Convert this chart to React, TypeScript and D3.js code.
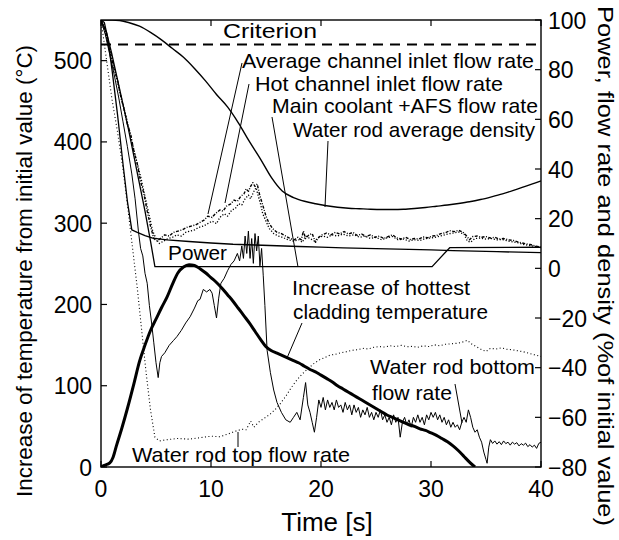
import React from "react";
import * as d3 from "d3";

// ---------- data ----------
const timeTicks = [0, 10, 20, 30, 40];
const tempTicks = [0, 100, 200, 300, 400, 500];
const pctTicks = [-80, -60, -40, -20, 0, 20, 40, 60, 80, 100];
const criterionTemp = 520;

type P = [number, number];

// Increase of hottest cladding temperature (°C, left axis)
const claddingTemp: P[] = [
  [0, 0], [0.3, 2], [0.8, 5], [1.1, 12], [1.4, 26], [1.9, 48], [2.4, 72], [3.0, 103], [3.5, 130],
  [4.0, 150], [4.5, 168], [5.0, 182], [5.5, 196], [6.0, 209], [6.5, 225], [7.0, 239], [7.5, 246],
  [8.0, 249], [8.5, 248], [9.0, 244], [9.5, 239], [10.0, 233], [10.5, 227], [11.0, 220], [11.5, 212],
  [12.0, 204], [12.5, 195], [13.0, 186], [13.5, 177], [14.0, 167], [14.5, 157], [15.0, 148],
  [15.5, 143], [16.0, 140], [16.5, 137], [17.0, 134], [17.5, 131], [18.0, 128], [18.5, 124],
  [19.0, 120], [19.5, 117], [20.0, 113], [20.5, 109], [21.0, 105], [21.5, 100], [22.0, 96],
  [22.5, 92], [23.0, 88], [23.5, 84], [24.0, 80], [24.5, 76], [25.0, 72], [25.5, 68], [26.0, 64],
  [26.5, 61], [27.0, 58], [27.5, 55], [28.0, 52], [28.5, 50], [29.0, 47], [29.5, 45], [30.0, 42],
  [30.5, 39], [31.0, 35], [31.5, 31], [32.0, 26], [32.5, 20], [33.0, 13], [33.5, 6], [34.0, 0],
];

// Water rod average density (% of initial, right axis)
const waterRodDensity: P[] = [
  [0, 100], [1, 100], [1.7, 99.8], [2.5, 99], [3.5, 97.5], [4.5, 95], [5.5, 92], [6.5, 88.5],
  [7.5, 85], [8.5, 80.5], [9.5, 75.5], [10.5, 70], [11.5, 65], [12.5, 58.5], [13.5, 51], [14.5, 44],
  [15.5, 36.5], [16.5, 31], [17.5, 28.5], [18.5, 27], [19.5, 26], [20.5, 25.2], [21.5, 24.6],
  [22.5, 24.2], [23.5, 24], [24.5, 23.8], [25.5, 23.7], [26.5, 23.7], [27.5, 23.8], [28.5, 24.1],
  [29.5, 24.5], [30.5, 25], [31.5, 25.5], [32.5, 26.1], [33.5, 26.8], [34.5, 27.7], [35.5, 28.8],
  [36.5, 30], [37.5, 31.4], [38.5, 32.9], [39.5, 34.4], [40, 35.2],
];

// Power
const power: P[] = [
  [0, 100], [0.3, 99], [0.6, 93], [1.0, 80], [1.5, 62], [2.0, 42], [2.4, 27], [2.8, 15.5],
  [3.3, 14.5], [4.0, 13.2], [4.7, 12.2], [6, 11.5], [8, 10.8], [10, 10.2], [12, 9.7], [14, 9.4],
  [16, 9.1], [18, 8.8], [20, 8.5], [22, 8.2], [24, 8.0], [26, 7.8], [28, 7.6], [30, 7.4], [32, 7.1],
  [34, 6.9], [36, 6.7], [38, 6.5], [40, 6.3],
];

// Main coolant + AFS flow rate
const mainCoolantFlow: P[] = [
  [0, 100], [0.5, 95], [1, 86], [1.5, 76], [2, 66], [2.5, 56], [3, 45], [3.5, 34], [4, 23],
  [4.5, 11], [4.9, 0.7], [30.1, 0.7], [31.7, 8.3], [40, 8.5],
];

// Average channel inlet flow rate
const avgChannelFlow: P[] = [
  [0, 100], [0.3, 97], [0.6, 91], [0.9, 86], [1.2, 80], [1.5, 76], [1.8, 69], [2.1, 64], [2.4, 58],
  [2.7, 54], [3.0, 47], [3.3, 42], [3.6, 35], [3.9, 30], [4.2, 23], [4.5, 17], [4.8, 12], [5.1, 11],
  [5.4, 12], [5.8, 13.5], [6.2, 13], [6.6, 14.5], [7.0, 15], [7.4, 15.5], [7.8, 16.5], [8.2, 17],
  [8.6, 17.5], [9.0, 18.5], [9.4, 19.5], [9.7, 21], [10.1, 20.5], [10.4, 22], [10.8, 23.5],
  [11.1, 23], [11.4, 25], [11.8, 26], [12.1, 27.5], [12.4, 27], [12.7, 29], [13.0, 30], [13.2, 32],
  [13.4, 31], [13.6, 33], [13.8, 34.5], [14.0, 33], [14.2, 34], [14.4, 30], [14.6, 27], [14.8, 24],
  [15.0, 21], [15.3, 18], [15.6, 16], [16.0, 14.5], [16.4, 14], [16.8, 13], [17.2, 12], [17.6, 11.5],
  [17.9, 12.5], [18.2, 11.5], [18.4, 15], [18.6, 12], [18.9, 13.5], [19.2, 14], [19.5, 10.5],
  [19.8, 12.5], [20.1, 13.5], [20.5, 14.2], [20.9, 13.5], [21.3, 14.5], [21.7, 13.8], [22.1, 14.8],
  [22.5, 13.8], [22.9, 14.5], [23.3, 13.2], [23.7, 13.8], [24.1, 12.8], [24.5, 13.5], [24.9, 12.5],
  [25.3, 13], [25.7, 12], [26.1, 12.8], [26.5, 13.5], [26.9, 12.2], [27.3, 11.8], [27.7, 12.5],
  [28.1, 11.6], [28.5, 12], [28.9, 11.8], [29.3, 12.6], [29.7, 12.3], [30.1, 13], [30.5, 13.2],
  [30.9, 14], [31.3, 14.3], [31.7, 15.2], [32.1, 14.8], [32.5, 15.3], [32.9, 14.6], [33.2, 13.2],
  [33.5, 11.5], [33.8, 12.8], [34.2, 13], [34.6, 12.5], [35.0, 12.8], [35.4, 12.2], [35.8, 12.5],
  [36.2, 11.8], [36.6, 12], [37.0, 11.5], [37.5, 11.2], [38.0, 10.5], [38.5, 10], [39.0, 9.6],
  [39.5, 9], [40, 8.5],
];

// Hot channel inlet flow rate
const hotChannelFlow: P[] = [
  [0, 100], [0.4, 95], [0.8, 88], [1.2, 81], [1.6, 73], [2.0, 66], [2.4, 59], [2.8, 51], [3.2, 44],
  [3.6, 37], [4.0, 29], [4.4, 21], [4.7, 15], [5.0, 12], [5.3, 10], [5.7, 11], [6.1, 12], [6.5, 12.5],
  [6.9, 13.5], [7.3, 13], [7.7, 14.5], [8.1, 15], [8.5, 15.5], [8.9, 16.5], [9.3, 17], [9.7, 18],
  [10.1, 19], [10.5, 18], [10.8, 20.5], [11.2, 22], [11.5, 21], [11.9, 23.5], [12.2, 24], [12.5, 26],
  [12.8, 25.5], [13.1, 28], [13.4, 29.5], [13.6, 28], [13.9, 31], [14.1, 32.5], [14.3, 29],
  [14.5, 26], [14.7, 22], [15.0, 19], [15.3, 16], [15.7, 14], [16.1, 13], [16.5, 12.5], [17, 11.5],
  [17.5, 11], [18, 11.5], [18.3, 10.5], [18.6, 13], [19, 12], [19.4, 11], [19.8, 12.5], [20.2, 13],
  [20.6, 12.5], [21, 13.5], [21.5, 13], [22, 13.8], [22.5, 13], [23, 13.5], [23.5, 12.5], [24, 13],
  [24.5, 12], [25, 12.5], [25.5, 11.5], [26, 12.3], [26.5, 12.8], [27, 11.5], [27.5, 11.8], [28, 11],
  [28.5, 11.5], [29, 11.2], [29.5, 12], [30, 12.2], [30.5, 12.6], [31, 13.2], [31.5, 13.8], [32, 14.2],
  [32.5, 14.6], [33, 13.8], [33.3, 11], [33.6, 10.5], [34, 12], [34.5, 12.2], [35, 11.8], [35.5, 12],
  [36, 11.5], [36.5, 11.6], [37, 11], [37.5, 10.6], [38, 10.2], [38.5, 9.5], [39, 9.2], [39.5, 8.8],
  [40, 8.2],
];

// Water rod top flow rate
const waterRodTopFlow: P[] = [
  [0, 100], [0.5, 84], [1, 68], [1.5, 55], [2, 40], [2.5, 22], [2.9, 7], [3.3, -8], [3.7, -25],
  [4.1, -42], [4.5, -57], [4.9, -68], [5.3, -69.5], [6, -69], [7, -68.5], [8, -68.8], [9, -68.2],
  [10, -67.6], [10.8, -67.8], [11.5, -66.8], [12.2, -65.6], [12.8, -64.8], [13.2, -65], [13.6, -61.5],
  [13.9, -64], [14.3, -62], [14.8, -60.5], [15.3, -59], [15.8, -57], [16.3, -54.5], [16.8, -51.5],
  [17.3, -48], [17.8, -45], [18.3, -42.5], [18.8, -40.5], [19.3, -38.5], [19.8, -37], [20.3, -36],
  [20.8, -35], [21.3, -34.6], [21.8, -34], [22.3, -33.6], [22.8, -33], [23.3, -32.8], [23.8, -32.2],
  [24.3, -32.5], [24.8, -31.8], [25.3, -31.5], [25.8, -31.7], [26.3, -31.2], [26.8, -31.5],
  [27.3, -31], [27.8, -31.6], [28.3, -31.4], [28.8, -31.8], [29.3, -31.2], [29.8, -31.5],
  [30.3, -30.8], [30.8, -31.2], [31.3, -30.6], [31.8, -30.4], [32.3, -30.2], [32.8, -29.8],
  [33.3, -29], [33.7, -30.5], [34.1, -31.5], [34.5, -32.5], [35.0, -33.5], [35.4, -32.2],
  [35.9, -32.5], [36.4, -32], [36.9, -32.6], [37.4, -32.8], [37.9, -33.2], [38.4, -33.6],
  [38.9, -34.2], [39.4, -34.8], [40, -35.5],
];

// Water rod bottom flow rate
const waterRodBottomFlow: P[] = [
  [0, 100], [0.4, 94], [0.8, 86], [1.2, 78], [1.6, 69], [2.0, 59], [2.4, 49], [2.8, 38], [3.1, 28],
  [3.4, 15], [3.6, 8], [3.8, 5], [4.0, -2], [4.2, -6], [4.4, -15], [4.6, -22], [4.8, -30], [5.0, -38],
  [5.2, -44], [5.35, -38], [5.5, -35.5], [5.8, -34], [6.2, -31], [6.6, -29], [6.9, -27.5], [7.3, -25],
  [7.7, -22], [8.1, -19.5], [8.5, -16], [8.8, -13], [9.0, -12.5], [9.3, -8.5], [9.6, -9.5],
  [9.9, -8.5], [10.1, -10], [10.3, -15], [10.5, -20], [10.7, -12], [10.9, -6], [11.2, -4], [11.5, -1],
  [11.8, 1.5], [12.1, 3], [12.4, 6], [12.6, 3], [12.8, 9], [12.95, 4], [13.1, 13], [13.25, 6],
  [13.4, 15], [13.55, 4], [13.7, 12], [13.85, 2], [14.0, 14], [14.15, 7], [14.3, 13], [14.45, 1],
  [14.6, 8], [14.75, -3], [14.9, -15], [15.1, -33], [15.4, -42], [15.7, -49], [16.0, -54],
  [16.4, -58], [16.8, -61], [17.2, -62], [17.5, -60], [17.8, -58], [18.1, -61], [18.4, -52],
  [18.6, -46], [18.8, -55], [19.0, -58], [19.2, -62], [19.4, -66], [19.6, -60], [19.8, -53],
  [20.0, -56], [20.2, -52], [20.4, -57], [20.6, -53], [20.8, -56], [21.0, -54], [21.2, -57],
  [21.4, -53], [21.6, -56], [21.8, -55], [22.0, -58], [22.2, -54], [22.4, -57], [22.6, -55],
  [22.8, -59], [23.0, -55], [23.2, -58], [23.4, -56], [23.6, -60], [23.8, -57], [24.0, -59],
  [24.2, -56], [24.4, -60], [24.6, -58], [24.8, -61], [25.0, -58], [25.2, -60], [25.4, -57],
  [25.6, -61], [25.8, -59], [26.0, -62], [26.2, -60], [26.4, -63], [26.6, -59], [26.8, -62],
  [27.0, -60], [27.2, -68], [27.4, -62], [27.6, -60], [27.8, -63], [28.0, -61], [28.2, -64],
  [28.4, -60], [28.6, -62], [28.8, -59], [29.0, -62], [29.2, -60], [29.4, -63], [29.6, -59],
  [29.8, -61], [30.0, -58], [30.2, -60], [30.4, -58], [30.6, -61], [30.8, -59], [31.0, -62],
  [31.2, -60], [31.4, -63], [31.6, -61], [31.8, -64], [32.0, -62], [32.2, -64], [32.4, -63],
  [32.6, -65], [32.8, -62], [33.0, -60], [33.2, -62], [33.4, -57], [33.6, -60], [33.8, -64],
  [34.0, -66], [34.2, -65], [34.4, -68], [34.6, -70], [34.8, -74], [35.0, -77], [35.1, -78.5],
  [35.25, -72], [35.4, -69], [35.6, -70.5], [35.8, -69.5], [36.0, -70.8], [36.2, -69.8], [36.4, -71],
  [36.6, -69.5], [36.8, -70.6], [37.0, -70], [37.2, -71.2], [37.4, -70], [37.6, -70.8], [37.8, -70.2],
  [38.0, -71.5], [38.2, -70.6], [38.4, -71.2], [38.6, -70.4], [38.8, -71.8], [39.0, -71], [39.2, -72],
  [39.4, -71.2], [39.6, -72.5], [39.8, -70.5], [40, -70],
];

// ---------- layout ----------
const W = 619;
const H = 540;
const L = 101, R = 541, T = 20, B = 467;
const FONT = "'Liberation Sans', Arial, Helvetica, sans-serif";

export default function App() {
  const x = d3.scaleLinear().domain([0, 40]).range([L, R]);
  const yL = d3.scaleLinear().domain([0, 550]).range([B, T]);
  const yR = d3.scaleLinear().domain([-80, 100]).range([B, T]);

  const lineR = d3.line<P>().x((d) => x(d[0])).y((d) => yR(d[1]));
  const lineRSmooth = d3.line<P>().x((d) => x(d[0])).y((d) => yR(d[1])).curve(d3.curveMonotoneX);
  const lineL = d3.line<P>().x((d) => x(d[0])).y((d) => yL(d[1])).curve(d3.curveMonotoneX);

  const tick = 6;
  const ann = (s: string, xx: number, yy: number, len: number, fs = 21) => (
    <text x={xx} y={yy} fontSize={fs} textLength={len} lengthAdjust="spacingAndGlyphs">{s}</text>
  );

  return (
    <svg
      width={W}
      height={H}
      style={{ position: "absolute", left: 0, top: 0, background: "#fff" }}
      fontFamily={FONT}
    >
      <defs>
        <clipPath id="plot">
          <rect x={L} y={T} width={R - L} height={B - T} />
        </clipPath>
      </defs>
      <rect x={0} y={0} width={W} height={H} fill="#fff" />

      <g clipPath="url(#plot)" fill="none" stroke="#000" strokeLinejoin="round">
        <line x1={L} x2={R} y1={yL(criterionTemp)} y2={yL(criterionTemp)} strokeWidth={2} strokeDasharray="10,7" />
        <path d={lineRSmooth(waterRodDensity) || ""} strokeWidth={1.4} />
        <path d={lineR(power) || ""} strokeWidth={1.3} />
        <path d={lineR(mainCoolantFlow) || ""} strokeWidth={1.3} />
        <path d={lineR(avgChannelFlow) || ""} strokeWidth={1.4} strokeDasharray="3,1.5,1,1.5" />
        <path d={lineR(hotChannelFlow) || ""} strokeWidth={1.3} strokeDasharray="1.2,1.8" />
        <path d={lineR(waterRodTopFlow) || ""} strokeWidth={1.1} strokeDasharray="1,2.5" />
        <path d={lineR(waterRodBottomFlow) || ""} strokeWidth={1} />
        <path d={lineL(claddingTemp) || ""} strokeWidth={3} />
      </g>

      {/* frame */}
      <rect x={L} y={T} width={R - L} height={B - T} fill="none" stroke="#000" strokeWidth={1.4} />

      {/* ticks */}
      <g stroke="#000" strokeWidth={1.2}>
        {tempTicks.map((v) => (
          <line key={"tl" + v} x1={L} x2={L + tick} y1={yL(v)} y2={yL(v)} />
        ))}
        {pctTicks.map((v) => (
          <line key={"tr" + v} x1={R} x2={R - tick} y1={yR(v)} y2={yR(v)} />
        ))}
        {timeTicks.map((v) => (
          <g key={"tx" + v}>
            <line x1={x(v)} x2={x(v)} y1={B} y2={B - tick} />
            <line x1={x(v)} x2={x(v)} y1={T} y2={T + tick} />
          </g>
        ))}
      </g>

      {/* tick labels */}
      <g fontSize={23} fill="#000">
        {tempTicks.map((v) => (
          <text key={"ll" + v} x={L - 9} y={yL(v) + 8.5} textAnchor="end">{v}</text>
        ))}
        {pctTicks.map((v) => (
          <text key={"rl" + v} x={R + 7} y={yR(v) + 8.5} textAnchor="start">{v < 0 ? "\u2212" + Math.abs(v) : String(v)}</text>
        ))}
        {timeTicks.map((v) => (
          <text key={"xl" + v} x={x(v)} y={B + 30} textAnchor="middle">{v}</text>
        ))}
      </g>

      {/* axis titles */}
      <text x={327} y={531} fontSize={26} textAnchor="middle">Time [s]</text>
      <text
        transform="translate(32,271) rotate(-90)"
        fontSize={22}
        textAnchor="middle"
        textLength={452}
        lengthAdjust="spacingAndGlyphs"
      >
        Increase of temperature from initial value (°C)
      </text>
      <text
        transform="translate(598,266) rotate(90)"
        fontSize={22}
        textAnchor="middle"
        textLength={520}
        lengthAdjust="spacingAndGlyphs"
      >
        Power, flow rate and density (%of initial value)
      </text>

      {/* annotations */}
      <g fill="#000">
        {ann("Criterion", 223, 38, 94)}
        {ann("Average channel inlet flow rate", 242, 68, 292)}
        {ann("Hot channel inlet flow rate", 255, 91, 248)}
        {ann("Main coolant +AFS flow rate", 272, 113, 266)}
        {ann("Water rod average density", 293, 137, 242)}
        {ann("Power", 168, 260, 59)}
        {ann("Increase of hottest", 292, 295, 178)}
        {ann("cladding temperature", 293, 319, 195)}
        {ann("Water rod bottom", 370, 374, 165)}
        {ann("flow rate", 372, 400, 80)}
        {ann("Water rod top flow rate", 132, 462, 218)}
      </g>

      {/* leader lines */}
      <g stroke="#000" strokeWidth={1}>
        <line x1={242} y1={63} x2={208} y2={214} />
        <line x1={249} y1={84} x2={225} y2={203} />
        <line x1={272} y1={117} x2={298} y2={267} />
        <line x1={328} y1={141} x2={325} y2={207} />
        <line x1={302} y1={323} x2={287} y2={358} />
        <line x1={455} y1={384} x2={462} y2={423} />
        <line x1={238} y1={432} x2={238} y2={447} />
      </g>
    </svg>
  );
}
